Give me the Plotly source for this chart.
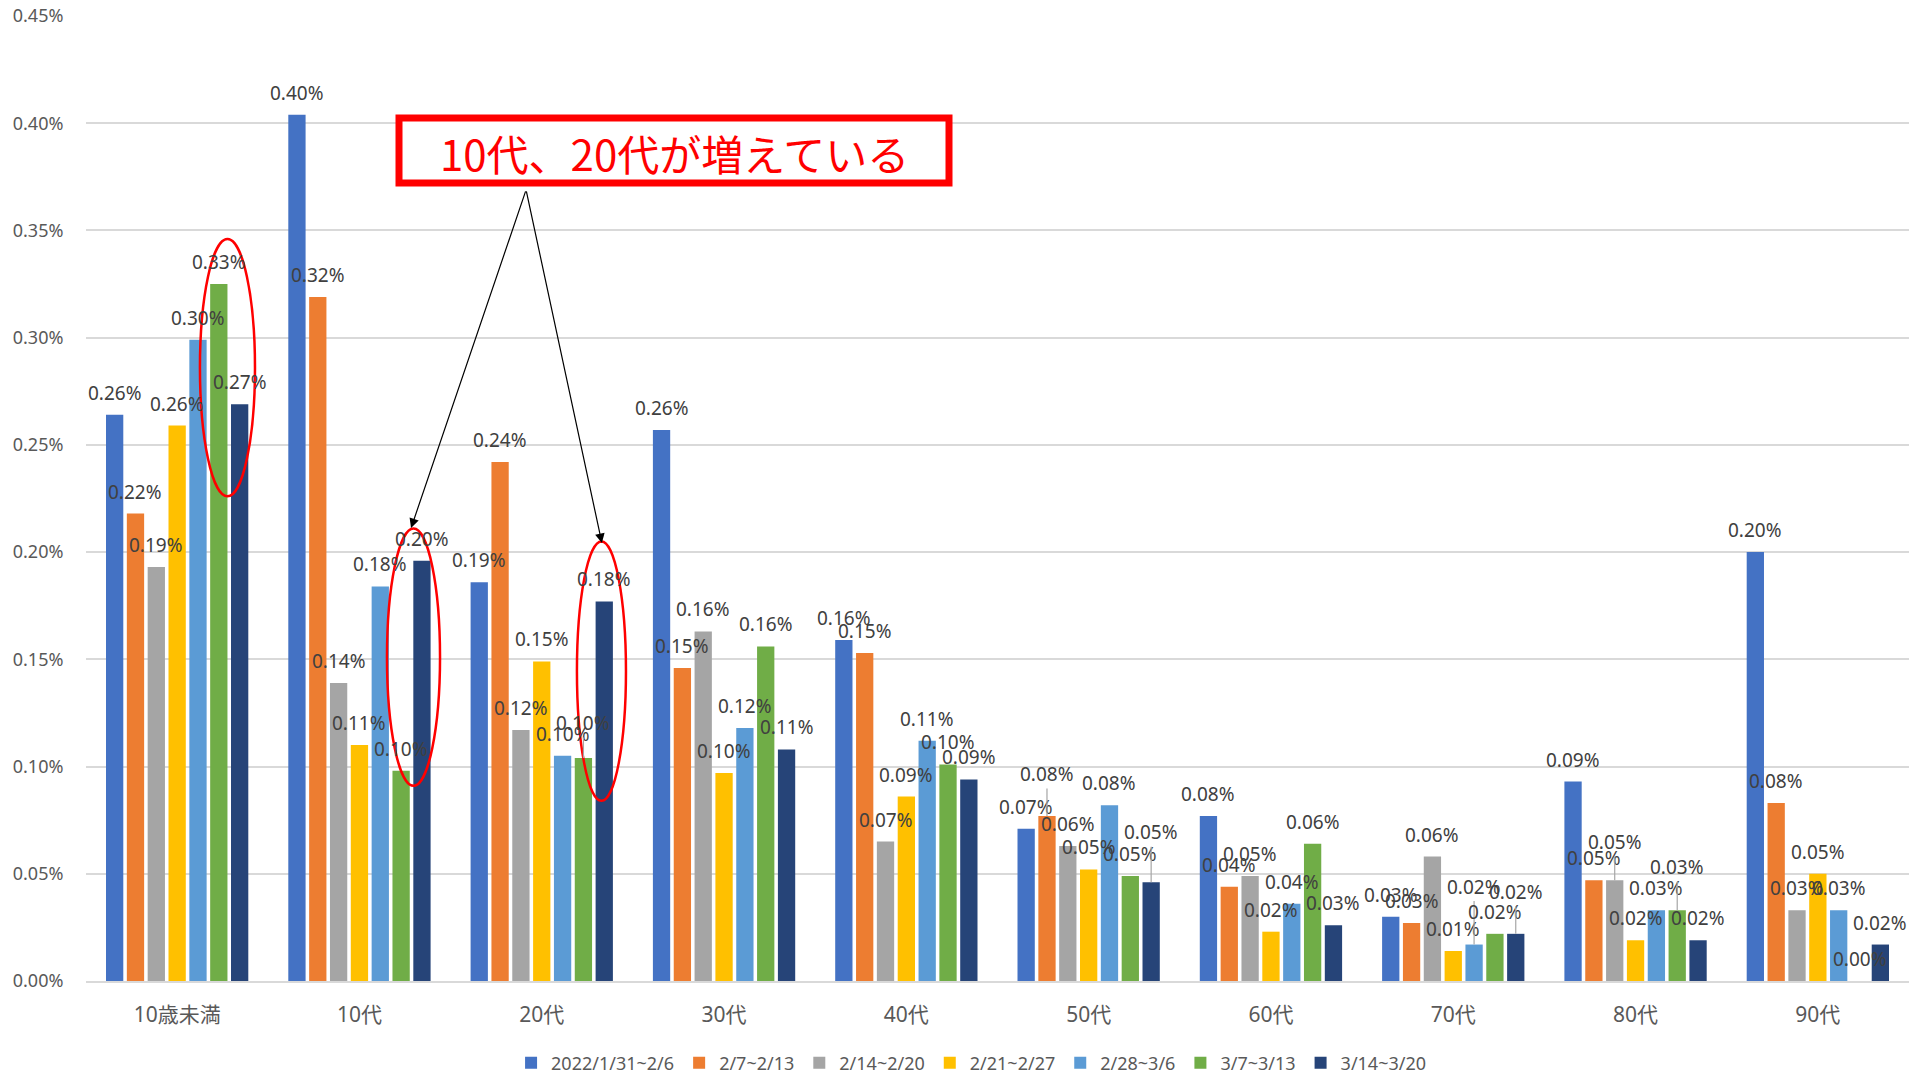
import plotly.graph_objects as go

categories = ["10歳未満", "10代", "20代", "30代", "40代", "50代", "60代", "70代", "80代", "90代"]
series_names = ["2022/1/31~2/6", "2/7~2/13", "2/14~2/20", "2/21~2/27", "2/28~3/6", "3/7~3/13", "3/14~3/20"]
colors = ["#4472C4", "#ED7D31", "#A5A5A5", "#FFC000", "#5B9BD5", "#70AD47", "#264478"]

# values in percent
s1 = [0.264, 0.404, 0.186, 0.257, 0.159, 0.071, 0.077, 0.030, 0.093, 0.200]
s2 = [0.218, 0.319, 0.242, 0.146, 0.153, 0.077, 0.044, 0.027, 0.047, 0.083]
s3 = [0.193, 0.139, 0.117, 0.163, 0.065, 0.063, 0.049, 0.058, 0.047, 0.033]
s4 = [0.259, 0.110, 0.149, 0.097, 0.086, 0.052, 0.023, 0.014, 0.019, 0.050]
s5 = [0.299, 0.184, 0.105, 0.118, 0.112, 0.082, 0.036, 0.017, 0.033, 0.033]
s6 = [0.325, 0.098, 0.104, 0.156, 0.101, 0.049, 0.064, 0.022, 0.033, 0.000]
s7 = [0.269, 0.196, 0.177, 0.108, 0.094, 0.046, 0.026, 0.022, 0.019, 0.017]
series_values = [s1, s2, s3, s4, s5, s6, s7]

y_ticks = [0.0, 0.0005, 0.001, 0.0015, 0.002, 0.0025, 0.003, 0.0035, 0.004, 0.0045]

annotation_text = "10代、20代が増えている"

# label placement tweaks (series index, category index) -> extra lift in px, with leader line
label_lift = {(5, 2): 13, (1, 5): 20, (6, 5): 28, (4, 7): 36, (6, 7): 20, (2, 8): 16, (5, 8): 21}

FONT = "Noto Sans, Noto Sans CJK JP, sans-serif"
N = len(series_names)
BARGAP = 0.2
slot = (1 - BARGAP) / N

fig = go.Figure()
for name, vals, col in zip(series_names, series_values, colors):
    fig.add_trace(go.Bar(
        x=list(range(len(categories))), y=[v / 100 for v in vals], name=name,
        marker_color=col, marker_line_width=0,
    ))

# data labels drawn above all bars
for si, vals in enumerate(series_values):
    for ci, v in enumerate(vals):
        xpos = ci + (si - (N - 1) / 2) * slot
        lift = label_lift.get((si, ci))
        txt = f"{v:.2f}%"
        if lift is None:
            fig.add_annotation(x=xpos, y=v / 100, xref="x", yref="y", text=txt,
                               showarrow=False, yanchor="middle", yshift=22,
                               font=dict(family=FONT, size=19, color="#404040"))
        else:
            fig.add_annotation(x=xpos, y=v / 100, xref="x", yref="y", text=txt,
                               showarrow=True, arrowhead=0, arrowwidth=1.2, arrowcolor="#A6A6A6",
                               ax=0, ay=-(22 + lift), standoff=0,
                               font=dict(family=FONT, size=19, color="#404040"))

fig.update_layout(
    barmode="group", bargap=BARGAP, bargroupgap=0.17,
    width=1926, height=1077,
    margin=dict(l=86, r=17, t=16, b=96, autoexpand=False),
    plot_bgcolor="white", paper_bgcolor="white",
    font=dict(family=FONT, color="#595959"),
    showlegend=True,
    legend=dict(orientation="h", x=0.4855, xanchor="center", y=-0.085, yanchor="middle",
                font=dict(family=FONT, size=18, color="#595959"), traceorder="normal"),
    yaxis=dict(range=[0, 0.0045], tickvals=y_ticks, tickformat=".2%", automargin=False,
               showgrid=True, gridcolor="#D9D9D9", gridwidth=1.5, zeroline=False,
               ticks="outside", ticklen=18, tickcolor="rgba(0,0,0,0)",
               tickfont=dict(family=FONT, size=18, color="#595959")),
    xaxis=dict(range=[-0.5, len(categories) - 0.5], tickvals=list(range(len(categories))),
               ticktext=categories, automargin=False,
               showline=True, linecolor="#D9D9D9", linewidth=2,
               ticks="outside", ticklen=14, tickcolor="rgba(0,0,0,0)",
               tickfont=dict(family=FONT, size=21, color="#595959")),
)

# red ellipses (category index coordinates)
ellipses = [(0.125, 0.00226, 0.427, 0.00346), (1.151, 0.00091, 1.442, 0.00211), (2.193, 0.00084, 2.462, 0.00205)]
for x0, y0, x1, y1 in ellipses:
    fig.add_shape(type="circle", xref="x", yref="y", x0=x0, x1=x1, y0=y0, y1=y1,
                  line=dict(color="#FF0000", width=2.5))

# callout box
fig.add_shape(type="rect", xref="paper", yref="paper",
              x0=(399 - 86) / 1823, x1=(949 - 86) / 1823,
              y0=(981 - 183) / 965, y1=(981 - 118) / 965,
              line=dict(color="#FF0000", width=7), fillcolor="white")
fig.add_annotation(xref="paper", yref="paper", x=(674 - 86) / 1823, y=(981 - 152) / 965,
                   xanchor="center", yanchor="middle",
                   text=annotation_text, showarrow=False,
                   font=dict(family="Noto Sans CJK JP", size=42, color="#FF0000"))

# arrows
for hx, hy in [(1.283, 0.002112), (2.33, 0.002042)]:
    fig.add_annotation(x=hx, y=hy, xref="x", yref="y", ax=1.914, ay=0.003689, axref="x", ayref="y",
                       text="", showarrow=True, arrowhead=2, arrowsize=1.6, arrowwidth=1.2,
                       arrowcolor="black", standoff=0)

fig.write_html("out.html", config={"displayModeBar": False},
               post_script="document.body.style.margin='0';document.body.style.overflow='hidden';")
